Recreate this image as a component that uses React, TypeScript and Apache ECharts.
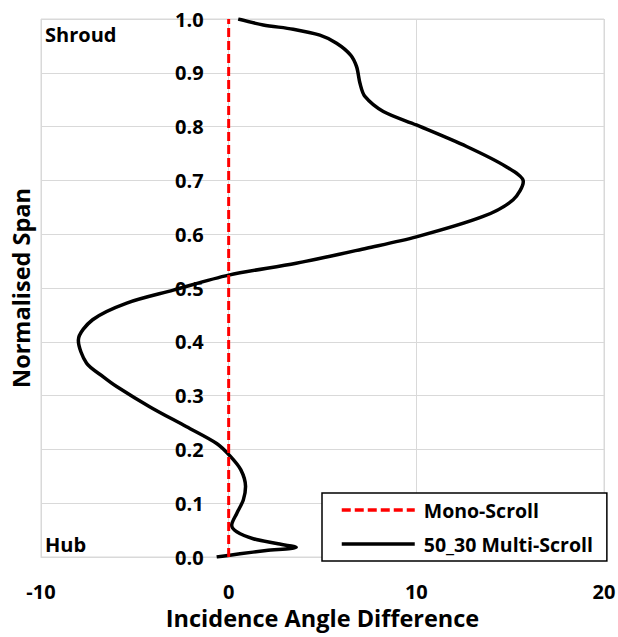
import React, { useEffect, useRef } from "react";
import * as echarts from "echarts";

// Normalised span positions from hub (0) to shroud (1)
const spanValues = [
  0.0, 0.006, 0.012, 0.018, 0.025, 0.034, 0.047, 0.059, 0.081, 0.106, 0.131,
  0.162, 0.188, 0.211, 0.242, 0.279, 0.317, 0.335, 0.36, 0.403, 0.441, 0.472,
  0.496, 0.524, 0.546, 0.574, 0.595, 0.633, 0.664, 0.698, 0.725, 0.763, 0.803,
  0.828, 0.856, 0.88, 0.911, 0.933, 0.955, 0.97, 0.981, 0.989, 1.0,
];

// Incidence angle difference of the 50_30 multi-scroll relative to mono-scroll
const multiScrollDiff = [
  -0.64, 0.6, 2.0, 3.6, 2.56, 1.31, 0.43, 0.16, 0.43, 0.78, 0.9, 0.65, 0.07,
  -0.64, -2.24, -4.19, -5.97, -6.68, -7.57, -8.01, -7.25, -5.43, -2.95, 0.0,
  3.6, 7.35, 10.0, 13.56, 15.16, 15.7, 14.81, 12.68, 10.0, 8.24, 7.26, 7.0,
  6.82, 6.5, 5.75, 4.86, 3.44, 1.84, 0.51,
];

// Mono-scroll reference (zero difference across the span)
const monoScrollSpan = [0, 1];
const monoScrollDiff = [0, 0];

const seriesNames = ["Mono-Scroll", "50_30 Multi-Scroll"];

const X_MIN = -10;
const X_MAX = 20;

const FONT = "'Open Sans', 'Liberation Sans', sans-serif";

const CHART_W = 618;
const CHART_H = 637;
const GRID_LEFT = 41;
const GRID_RIGHT = 14;

export default function App() {
  const ref = useRef<HTMLDivElement>(null);

  useEffect(() => {
    if (!ref.current) return;
    const chart = echarts.init(ref.current, null, { renderer: "svg" });

    const multiData = spanValues.map((s, i) => [multiScrollDiff[i], s]);
    const monoData = monoScrollSpan.map((s, i) => [monoScrollDiff[i], s]);

    // the vertical axis crosses the horizontal one at x = 0
    const plotW = CHART_W - GRID_LEFT - GRID_RIGHT;
    const zeroOffset = ((0 - X_MIN) / (X_MAX - X_MIN)) * plotW;

    chart.setOption({
      animation: false,
      backgroundColor: "#ffffff",
      textStyle: { fontFamily: FONT },
      grid: {
        left: GRID_LEFT,
        top: 19,
        right: GRID_RIGHT,
        bottom: 80,
        show: true,
        borderColor: "#d9d9d9",
        borderWidth: 1,
        containLabel: false,
        outerBoundsMode: "none",
      },
      xAxis: {
        type: "value",
        min: X_MIN,
        max: X_MAX,
        interval: 10,
        name: "Incidence Angle Difference",
        nameLocation: "middle",
        nameGap: 49,
        nameTextStyle: {
          fontFamily: FONT,
          fontSize: 23.5,
          fontWeight: "bold",
          color: "#000",
        },
        axisLine: { show: true, onZero: false, lineStyle: { color: "#d9d9d9", width: 1 } },
        axisTick: { show: false },
        axisLabel: {
          margin: 24,
          fontFamily: FONT,
          fontSize: 20,
          fontWeight: "bold",
          color: "#000",
        },
        splitLine: { show: true, lineStyle: { color: "#d9d9d9", width: 1 } },
      },
      yAxis: {
        type: "value",
        min: 0,
        max: 1,
        interval: 0.1,
        offset: -zeroOffset,
        name: "Normalised Span",
        nameLocation: "middle",
        nameGap: 196,
        nameTextStyle: {
          fontFamily: FONT,
          fontSize: 23.5,
          fontWeight: "bold",
          color: "#000",
        },
        axisLine: { show: true, onZero: false, lineStyle: { color: "#d9d9d9", width: 1 } },
        axisTick: { show: false },
        axisLabel: {
          margin: 25,
          fontFamily: FONT,
          fontSize: 20,
          fontWeight: "bold",
          color: "#000",
          formatter: (v: number) => v.toFixed(1),
        },
        splitLine: { show: true, lineStyle: { color: "#d9d9d9", width: 1 } },
      },
      legend: {
        data: seriesNames,
        orient: "vertical",
        left: 322,
        top: 493,
        itemWidth: 73,
        itemHeight: 18,
        itemGap: 14,
        padding: [7, 14, 7, 18],
        backgroundColor: "#ffffff",
        borderColor: "#000",
        borderWidth: 1.5,
        borderRadius: 0,
        lineStyle: { width: 3.5 },
        itemStyle: {
          color: "transparent",
          borderColor: "transparent",
          borderWidth: 0,
          opacity: 0,
        },
        textStyle: {
          fontFamily: FONT,
          fontSize: 19.5,
          fontWeight: "bold",
          color: "#000",
          padding: [0, 0, 0, 4],
        },
      },
      graphic: [
        {
          type: "text",
          left: 45,
          top: 24,
          style: {
            text: "Shroud",
            font: `bold 20px ${FONT}`,
            fill: "#000",
          },
        },
        {
          type: "text",
          left: 45,
          top: 534,
          style: {
            text: "Hub",
            font: `bold 20px ${FONT}`,
            fill: "#000",
          },
        },
      ],
      series: [
        {
          name: seriesNames[1],
          type: "line",
          data: multiData,
          symbol: "none",
          smooth: 0.3,
          z: 2,
          lineStyle: { color: "#000", width: 3.5 },
          itemStyle: { color: "#000" },
        },
        {
          name: seriesNames[0],
          type: "line",
          data: monoData,
          symbol: "none",
          z: 3,
          lineStyle: { color: "#ff0000", width: 3, type: [9, 4] },
          itemStyle: { color: "#ff0000" },
        },
      ],
    });

    return () => chart.dispose();
  }, []);

  return (
    <div
      ref={ref}
      style={{ position: "fixed", left: 0, top: 0, width: CHART_W, height: CHART_H }}
    />
  );
}
